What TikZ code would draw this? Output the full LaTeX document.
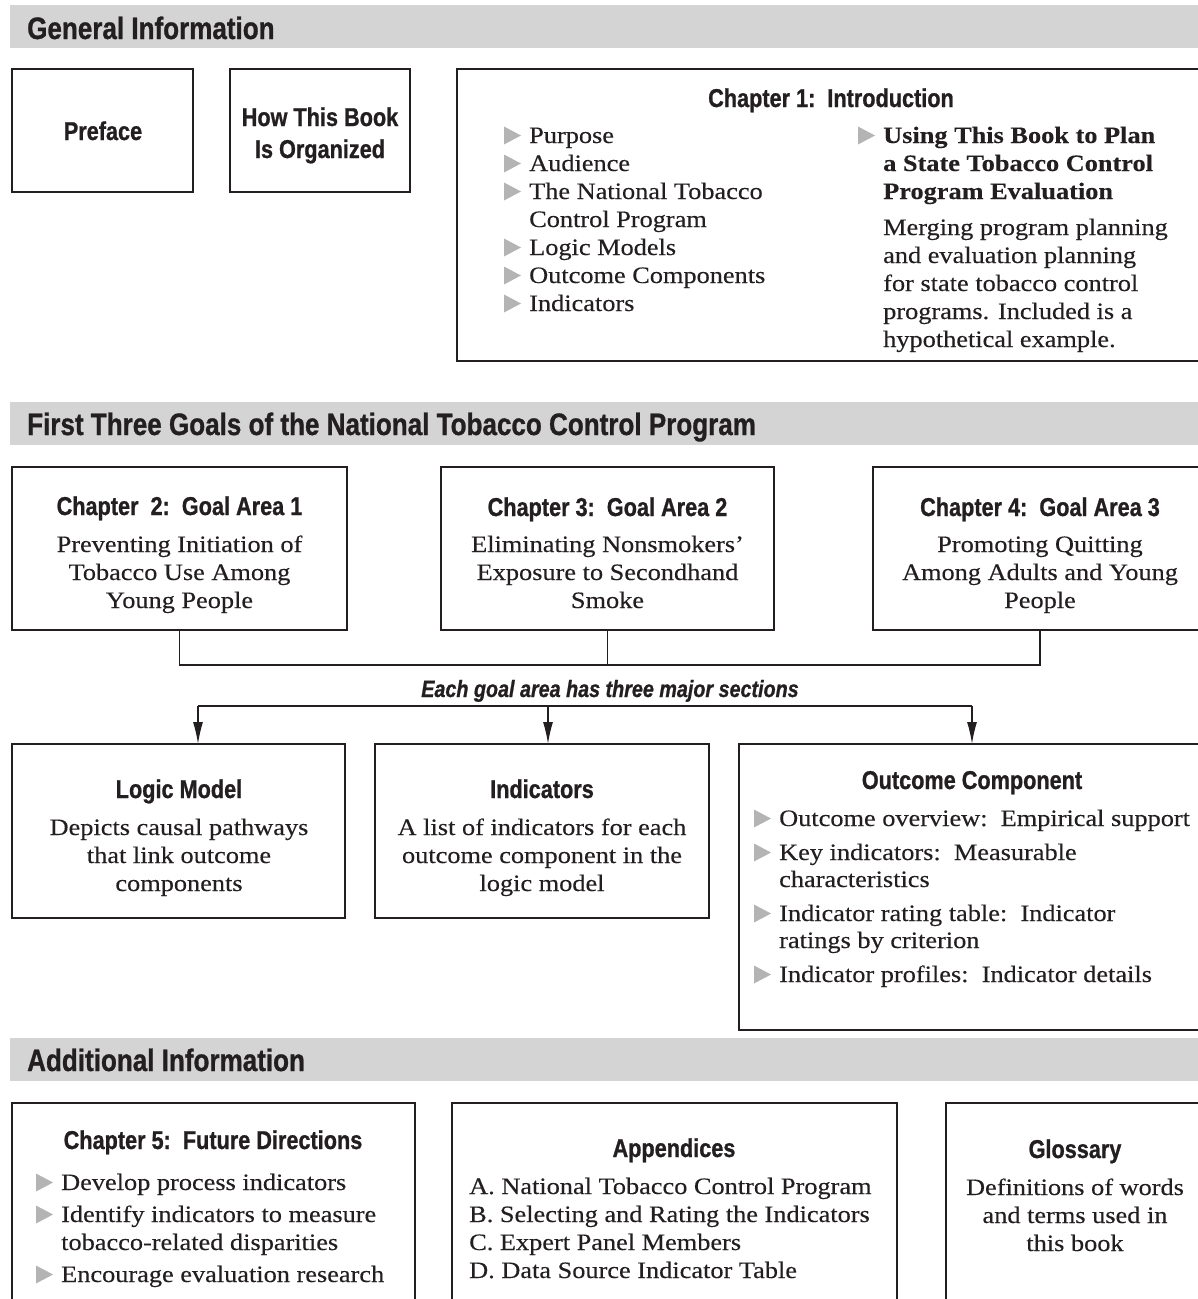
\documentclass[tikz,border=0pt]{standalone}
\usepackage{fontspec}
\newfontfamily\condf[FakeStretch=0.84,FakeBold=0.9,UprightFont={* Bold},ItalicFont={* Bold Italic}]{Liberation Sans}
\newfontfamily\bodyf[FakeStretch=1.12,FakeBold=0.3]{Liberation Serif}
\usetikzlibrary{arrows.meta}
\definecolor{barc}{HTML}{D4D4D4}
\definecolor{bulc}{HTML}{B4B4B4}
\definecolor{inkc}{HTML}{231F20}
\newcommand\bul[2]{\fill[bulc] (#1-25,#2+1.5) -- (#1-25,#2-16.5) -- (#1-8,#2-7.5) -- cycle;}
\begin{document}
\begin{tikzpicture}[x=1pt,y=-1pt,
  bar/.style={fill=barc,draw=none,inner sep=0pt,outer sep=0pt,anchor=north west,minimum height=43pt},
  box/.style={draw=inkc,line width=1.5pt,inner sep=0pt,outer sep=0pt,anchor=north west},
  hd/.style={font=\condf\fontsize{31}{36}\selectfont,anchor=base west,inner sep=0pt,text=inkc},
  tt/.style={font=\condf\fontsize{25.8}{30}\selectfont,anchor=base,inner sep=0pt,text=inkc},
  tx/.style={font=\bodyf\fontsize{23.5}{28}\selectfont,anchor=base,inner sep=0pt,text=inkc},
  txl/.style={tx,anchor=base west},
  txb/.style={font=\bodyf\bfseries\fontsize{23.5}{28}\selectfont,anchor=base west,inner sep=0pt,text=inkc},
  conn/.style={draw=inkc,line width=1.4pt},
  arr/.style={conn,-{Latex[length=22pt,width=10pt]}}]
\useasboundingbox (0,0) rectangle (1198,1299);
\clip (0,0) rectangle (1198,1299);

% ---------- General Information ----------
\node[bar,minimum width=1200pt] (bar1) at (10,5) {};
\node[hd] (h1) at (27,39) {General Information};

\node[box,minimum width=181pt,minimum height=123pt] (pref) at (12,69) {};
\node[tt] (tpref) at (103,140) {Preface};

\node[box,minimum width=180pt,minimum height=123pt] (how) at (230,69) {};
\node[tt] (thow1) at (320,126) {How This Book};
\node[tt] (thow2) at (320,158) {Is Organized};

\node[box,minimum width=760pt,minimum height=292pt] (ch1) at (457,69) {};
\node[tt] (tch1) at (831,107) {Chapter 1:\ \ Introduction};
\bul{529}{143}\node[txl] (c1a) at (529,143) {Purpose};
\bul{529}{171}\node[txl] (c1b) at (529,171) {Audience};
\bul{529}{199}\node[txl] (c1c) at (529,199) {The National Tobacco};
\node[txl] (c1d) at (529,227) {Control Program};
\bul{529}{255}\node[txl] (c1e) at (529,255) {Logic Models};
\bul{529}{283}\node[txl] (c1f) at (529,283) {Outcome Components};
\bul{529}{311}\node[txl] (c1g) at (529,311) {Indicators};
\bul{883}{143}\node[txb] (c1h) at (883,143) {Using This Book to Plan};
\node[txb] (c1i) at (883,171) {a State Tobacco Control};
\node[txb] (c1j) at (883,199) {Program Evaluation};
\node[txl] (c1k) at (883,235) {Merging program planning};
\node[txl] (c1l) at (883,263) {and evaluation planning};
\node[txl] (c1m) at (883,291) {for state tobacco control};
\node[txl] (c1n) at (883,319) {programs. Included is a};
\node[txl] (c1o) at (883,347) {hypothetical example.};

% ---------- First Three Goals ----------
\node[bar,minimum width=1200pt] (bar2) at (10,402) {};
\node[hd] (h2) at (27,435) {First Three Goals of the National Tobacco Control Program};

\node[box,minimum width=335pt,minimum height=163pt] (g1) at (12,467) {};
\node[tt] (tg1) at (179.5,515) {Chapter\ \ 2:\ \ Goal Area 1};
\node[tx] (g1a) at (179.5,552) {Preventing Initiation of};
\node[tx] (g1b) at (179.5,580) {Tobacco Use Among};
\node[tx] (g1c) at (179.5,608) {Young People};

\node[box,minimum width=333pt,minimum height=163pt] (g2) at (441,467) {};
\node[tt] (tg2) at (607.5,516) {Chapter 3:\ \ Goal Area 2};
\node[tx] (g2a) at (607.5,552) {Eliminating Nonsmokers’};
\node[tx] (g2b) at (607.5,580) {Exposure to Secondhand};
\node[tx] (g2c) at (607.5,608) {Smoke};

\node[box,minimum width=334pt,minimum height=163pt] (g3) at (873,467) {};
\node[tt] (tg3) at (1040,516) {Chapter 4:\ \ Goal Area 3};
\node[tx] (g3a) at (1040,552) {Promoting Quitting};
\node[tx] (g3b) at (1040,580) {Among Adults and Young};
\node[tx] (g3c) at (1040,608) {People};

\coordinate (jn) at (0,665);
\draw[conn] (g1.south) |- (g3.south |- jn) -- (g3.south);
\draw[conn] (g2.south) -- (g2.south |- jn);

\node[font=\condf\itshape\fontsize{23.5}{28}\selectfont,anchor=base,inner sep=0pt,text=inkc] (each) at (610,697) {Each goal area has three major sections};

\node[box,minimum width=333pt,minimum height=174pt] (lm) at (12,744) {};
\node[tt] (tlm) at (179,798) {Logic Model};
\node[tx] (lma) at (179,835) {Depicts causal pathways};
\node[tx] (lmb) at (179,863) {that link outcome};
\node[tx] (lmc) at (179,891) {components};

\node[box,minimum width=334pt,minimum height=174pt] (ind) at (375,744) {};
\node[tt] (tind) at (542,798) {Indicators};
\node[tx] (inda) at (542,835) {A list of indicators for each};
\node[tx] (indb) at (542,863) {outcome component in the};
\node[tx] (indc) at (542,891) {logic model};

\node[box,minimum width=466pt,minimum height=286pt] (oc) at (739,744) {};
\node[tt] (toc) at (972,789) {Outcome Component};
\bul{779}{826}\node[txl] (oca) at (779,826) {Outcome overview:\ \ Empirical support};
\bul{779}{860}\node[txl] (ocb) at (779,860) {Key indicators:\ \ Measurable};
\node[txl] (occ) at (779,887) {characteristics};
\bul{779}{921}\node[txl] (ocd) at (779,921) {Indicator rating table:\ \ Indicator};
\node[txl] (oce) at (779,948) {ratings by criterion};
\bul{779}{982}\node[txl] (ocf) at (779,982) {Indicator profiles:\ \ Indicator details};

\coordinate (a1) at (198,706);
\coordinate (a2) at (548,706);
\coordinate (a3) at (oc.north |- a1);
\draw[conn] (a1) -- (a3);
\draw[arr] (a1) -- (a1 |- lm.north);
\draw[arr] (a2) -- (a2 |- ind.north);
\draw[arr] (a3) -- (oc.north);

% ---------- Additional Information ----------
\node[bar,minimum width=1200pt] (bar3) at (10,1038) {};
\node[hd] (h3) at (27,1071) {Additional Information};

\node[box,minimum width=403pt,minimum height=250pt] (ch5) at (12,1103) {};
\node[tt] (tch5) at (213,1149) {Chapter 5:\ \ Future Directions};
\bul{61}{1190}\node[txl] (c5a) at (61,1190) {Develop process indicators};
\bul{61}{1222}\node[txl] (c5b) at (61,1222) {Identify indicators to measure};
\node[txl] (c5c) at (61,1250) {tobacco-related disparities};
\bul{61}{1282}\node[txl] (c5d) at (61,1282) {Encourage evaluation research};

\node[box,minimum width=445pt,minimum height=250pt] (app) at (452,1103) {};
\node[tt] (tapp) at (674,1157) {Appendices};
\node[txl] (apa) at (469,1194) {A. National Tobacco Control Program};
\node[txl] (apb) at (469,1222) {B. Selecting and Rating the Indicators};
\node[txl] (apc) at (469,1250) {C. Expert Panel Members};
\node[txl] (apd) at (469,1278) {D. Data Source Indicator Table};

\node[box,minimum width=262pt,minimum height=250pt] (glo) at (946,1103) {};
\node[tt] (tglo) at (1075,1158) {Glossary};
\node[tx] (gla) at (1075,1195) {Definitions of words};
\node[tx] (glb) at (1075,1223) {and terms used in};
\node[tx] (glc) at (1075,1251) {this book};
\end{tikzpicture}
\end{document}
